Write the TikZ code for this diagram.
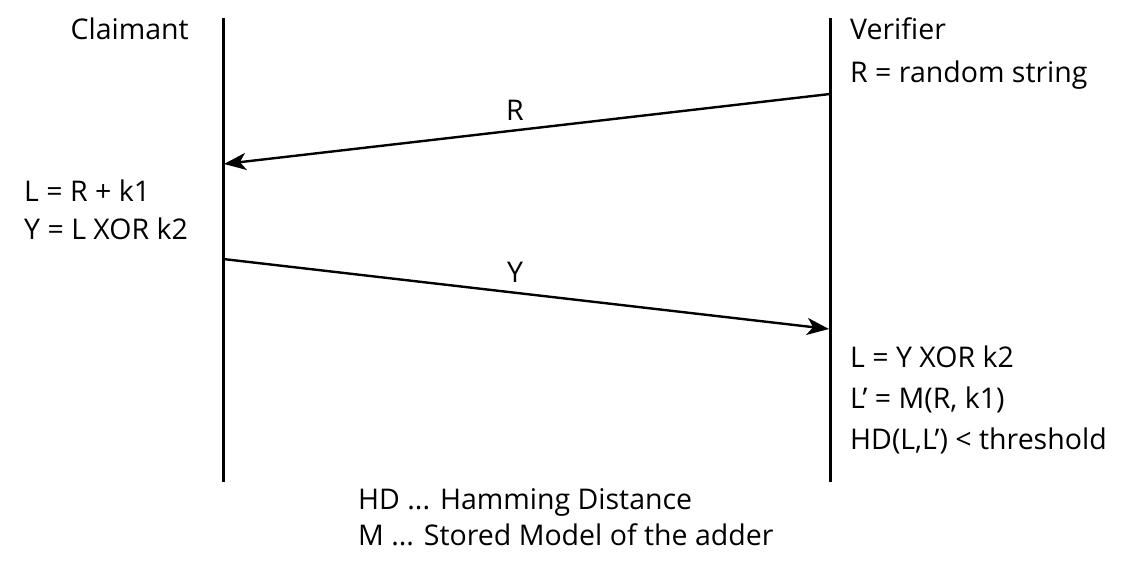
\documentclass[tikz,border=0pt]{standalone}
\usepackage{fontspec}
\setmainfont{Open Sans}
\usetikzlibrary{arrows.meta}
\begin{document}
\begin{tikzpicture}[x=1pt,y=-1pt,
  lifeline/.style={line width=3pt},
  msg/.style={line width=2.4pt,-{Stealth[length=22pt,width=17pt,inset=6pt]}},
  txt/.style={inner sep=0pt,font=\fontsize{28.5}{32}\selectfont},
  lbl/.style={txt,anchor=base west}]
\useasboundingbox (0,0) rectangle (1133,569);
% lifelines
\coordinate (ctop) at (223,18);
\coordinate (cbot) at (223,482);
\coordinate (vtop) at (830,18);
\coordinate (vbot) at (830,482);
\draw[lifeline] (ctop) -- (cbot);
\draw[lifeline] (vtop) -- (vbot);
% messages
\coordinate (rstart) at (830,94);
\coordinate (rend) at (224,164);
\coordinate (ystart) at (223,259);
\coordinate (yend) at (829,329);
\draw[msg] (rstart) -- (rend);
\draw[msg] (ystart) -- (yend);
\node[txt,anchor=base] (rl) at (515,121) {R};
\node[txt,anchor=base] (yl) at (515,283) {Y};
% texts
\node[txt,anchor=base east] (claimant) at (189,40) {Claimant};
\node[lbl] (verifier) at (850,40) {Verifier};
\node[lbl] (rand) at (850,83) {R = random string};
\node[lbl] (l1) at (24,202) {L = R + k1};
\node[lbl] (y1) at (24,240) {Y = L XOR k2};
\node[lbl] (l2) at (850,368) {L = Y XOR k2};
\node[lbl] (lp) at (850,408) {L’ = M(R, k1)};
\node[lbl] (hd) at (850,449) {HD(L,L’) < threshold};
\node[lbl] (leg1) at (358,509) {HD ... Hamming Distance};
\node[lbl] (leg2) at (358,545) {M ... Stored Model of the adder};
\end{tikzpicture}
\end{document}
